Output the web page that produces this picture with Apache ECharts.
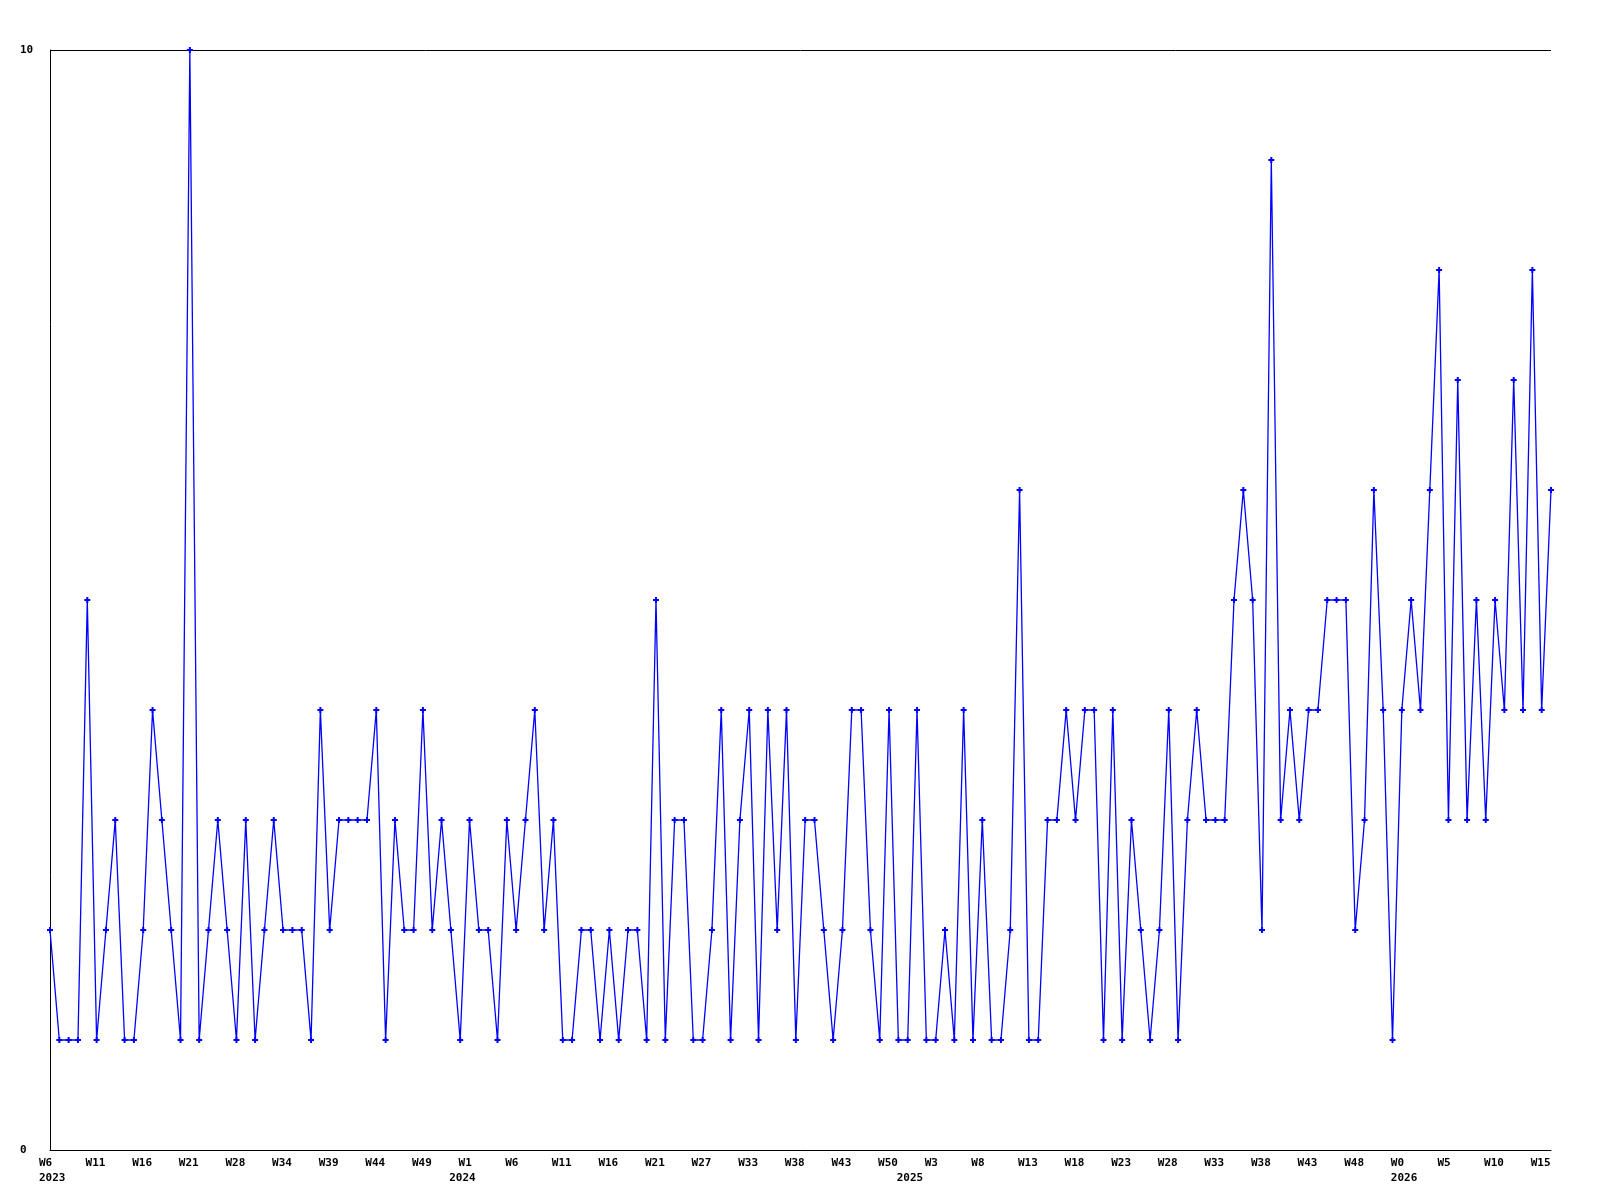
<!DOCTYPE html>
<html>
<head>
<meta charset="utf-8">
<script src="https://cdn.jsdelivr.net/npm/echarts@6/dist/echarts.min.js"></script>
<style>
  html, body { margin: 0; padding: 0; background: #ffffff; }
  #chart { width: 1600px; height: 1200px; }
</style>
</head>
<body>
<div id="chart"></div>
<script>
// Weekly values, one per point
const values = [
  2,1,1,1,5,1,2,3,1,1,
  2,4,3,2,1,10,1,2,3,2,
  1,3,1,2,3,2,2,2,1,4,
  2,3,3,3,3,4,1,3,2,2,
  4,2,3,2,1,3,2,2,1,3,
  2,3,4,2,3,1,1,2,2,1,
  2,1,2,2,1,5,1,3,3,1,
  1,2,4,1,3,4,1,4,2,4,
  1,3,3,2,1,2,4,4,2,1,
  4,1,1,4,1,1,2,1,4,1,
  3,1,1,2,6,1,1,3,3,4,
  3,4,4,1,4,1,3,2,1,2,
  4,1,3,4,3,3,3,5,6,5,
  2,9,3,4,3,4,4,5,5,5,
  2,3,6,4,1,4,5,4,6,8,
  3,7,3,5,3,5,4,7,4,8,
  4,6
];

// Week tick labels (one every 5th point)
const weekTicks = [
  'W6','W11','W16','W21','W28','W34','W39','W44','W49',
  'W1','W6','W11','W16','W21','W27','W33','W38','W43','W50',
  'W3','W8','W13','W18','W23','W28','W33','W38','W43','W48',
  'W0','W5','W10','W15'
];
const weekTickEvery = 5;

// Year labels and the point they sit under
const yearTicks = ['2023','2024','2025','2026'];
const yearTickAt = [0, 44, 92, 145];

const weekCats = values.map((_, i) => (i % weekTickEvery === 0 ? (weekTicks[i / weekTickEvery] || '') : ''));
const yearCats = values.map((_, i) => {
  const k = yearTickAt.indexOf(i);
  return k >= 0 ? yearTicks[k] : '';
});
const xIdx = values.map((_, i) => String(i));

const FONT = 'DejaVu Sans Mono';
const labelStyle = {
  fontFamily: FONT,
  fontWeight: 'bold',
  fontSize: 11,
  color: '#000000'
};

const chart = echarts.init(document.getElementById('chart'), null, { renderer: 'canvas' });
chart.setOption({
  animation: false,
  backgroundColor: '#ffffff',
  grid: { left: 50, right: 49, top: 50, bottom: 50, containLabel: false },
  xAxis: [
    {
      type: 'category',
      data: xIdx,
      boundaryGap: false,
      position: 'bottom',
      axisLine: { show: true, lineStyle: { color: '#000000', width: 1 } },
      axisTick: { show: false },
      splitLine: { show: false },
      axisLabel: Object.assign({
        interval: 0,
        align: 'left',
        margin: 8,
        padding: [0, 0, 0, -11],
        formatter: (v, i) => weekCats[i]
      }, labelStyle)
    },
    {
      type: 'category',
      data: xIdx,
      boundaryGap: false,
      position: 'bottom',
      offset: 15,
      axisLine: { show: false },
      axisTick: { show: false },
      splitLine: { show: false },
      axisLabel: Object.assign({
        interval: 0,
        align: 'left',
        margin: 8,
        padding: [0, 0, 0, -11],
        formatter: (v, i) => yearCats[i]
      }, labelStyle)
    }
  ],
  yAxis: {
    type: 'value',
    min: 0,
    max: 10,
    interval: 10,
    axisLine: { show: true, lineStyle: { color: '#000000', width: 1 } },
    axisTick: { show: false },
    splitLine: { show: true, lineStyle: { color: '#000000', width: 1 } },
    axisLabel: Object.assign({
      align: 'left',
      margin: 30
    }, labelStyle)
  },
  series: [
    {
      type: 'line',
      data: values,
      xAxisIndex: 0,
      symbol: 'path://M2,0L4,0L4,2L6,2L6,4L4,4L4,6L2,6L2,4L0,4L0,2L2,2Z',
      symbolSize: 6,
      showAllSymbol: true,
      lineStyle: { color: '#0000ff', width: 1.3 },
      itemStyle: { color: '#0000ff', borderWidth: 0 },
      emphasis: { disabled: true }
    }
  ]
});
</script>
</body>
</html>
